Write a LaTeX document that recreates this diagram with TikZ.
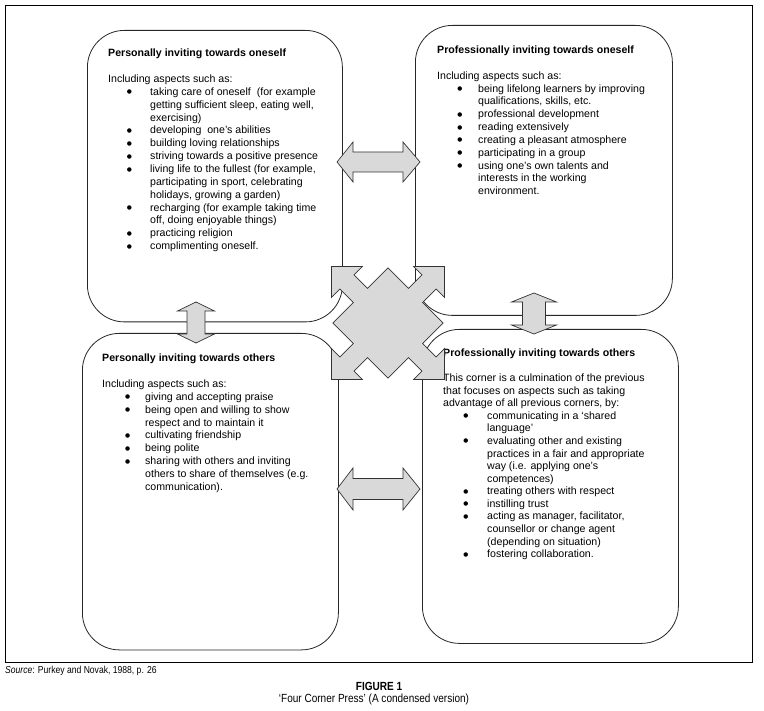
\documentclass[tikz,border=0pt]{standalone}
\usepackage{fontspec}
\setmainfont{Liberation Sans}
\newfontfamily\narrowfont[FakeStretch=0.85]{Liberation Sans}
\newfontfamily\dotfont{DejaVu Sans}
\definecolor{arrowgray}{RGB}{217,217,217}
\newlength\bulx
\newlength\itmx
\newcommand\bl{\hspace*{\dimexpr\bulx+0.2pt\relax}\makebox[\dimexpr\itmx-\bulx-0.2pt\relax][l]{\raisebox{1.5pt}{\dotfont\fontsize{5.8}{7}\selectfont ●}}}
\newcommand\ct{\hspace*{\itmx}}
\begin{document}
\begin{tikzpicture}[x=1pt,y=-1pt,
  cornerbox/.style={draw=black!85, line width=0.8pt, rounded corners=37pt, anchor=north west, inner sep=0pt, fill=white},
  boxtext/.style={anchor=north west, align=left, inner sep=0pt, font=\fontsize{10.6}{12.85}\selectfont},
  blockarrow/.style={draw=black!80, line width=0.7pt, fill=arrowgray, line join=miter},
  captext/.style={inner sep=0pt}]
\useasboundingbox (0,0) rectangle (764,711);
% outer frame
\node[draw=black, line width=0.9pt, anchor=north west, inner sep=0pt, minimum width=747pt, minimum height=657pt] (frame) at (5,5) {};
% the four corner boxes
\node[cornerbox, minimum width=255pt, minimum height=291.5pt] (tl) at (87,30) {};
\node[cornerbox, minimum width=257pt, minimum height=290pt] (tr) at (415,25) {};
\node[cornerbox, minimum width=256pt, minimum height=316.5pt] (bl) at (82,333) {};
\node[cornerbox, minimum width=256pt, minimum height=314pt] (br) at (422,329) {};
% texts
\setlength\bulx{18.4pt}\setlength\itmx{42pt}
\node[boxtext] (tltext) at (108,46.7) {\rule{0pt}{10pt}\textbf{Personally inviting towards oneself}\\[12.85pt]
Including aspects such as:\\
\bl taking care of oneself\ \ (for example\\
\ct getting sufficient sleep, eating well,\\
\ct exercising)\\
\bl developing\ \ one’s abilities\\
\bl building loving relationships\\
\bl striving towards a positive presence\\
\bl living life to the fullest (for example,\\
\ct participating in sport, celebrating\\
\ct holidays, growing a garden)\\
\bl recharging (for example taking time\\
\ct off, doing enjoyable things)\\
\bl practicing religion\\
\bl complimenting oneself.};
\setlength\bulx{20pt}\setlength\itmx{41pt}
\node[boxtext] (trtext) at (437,43.3) {\rule{0pt}{10pt}\textbf{Professionally inviting towards oneself}\\[12.85pt]
Including aspects such as:\\
\bl being lifelong learners by improving\\
\ct qualifications, skills, etc.\\
\bl professional development\\
\bl reading extensively\\
\bl creating a pleasant atmosphere\\
\bl participating in a group\\
\bl using one’s own talents and\\
\ct interests in the working\\
\ct environment.};
\setlength\bulx{22.8pt}\setlength\itmx{43pt}
\node[boxtext] (bltext) at (102,351.7) {\rule{0pt}{10pt}\textbf{Personally inviting towards others}\\[12.85pt]
Including aspects such as:\\
\bl giving and accepting praise\\
\bl being open and willing to show\\
\ct respect and to maintain it\\
\bl cultivating friendship\\
\bl being polite\\
\bl sharing with others and inviting\\
\ct others to share of themselves (e.g.\\
\ct communication).};
\setlength\bulx{20pt}\setlength\itmx{44pt}
\node[boxtext, font=\fontsize{10.6}{12.6}\selectfont] (brtext) at (443,346) {\rule{0pt}{10pt}\textbf{Professionally inviting towards others}\\[12.6pt]
This corner is a culmination of the previous\\
that focuses on aspects such as taking\\
advantage of all previous corners, by:\\
\bl communicating in a ‘shared\\
\ct language’\\
\bl evaluating other and existing\\
\ct practices in a fair and appropriate\\
\ct way (i.e. applying one’s\\
\ct competences)\\
\bl treating others with respect\\
\bl instilling trust\\
\bl acting as manager, facilitator,\\
\ct counsellor or change agent\\
\ct (depending on situation)\\
\bl fostering collaboration.};
% double block arrows between neighbouring boxes
\draw[blockarrow] (337,162) -- (353,142) -- (353,152) -- (403,152) -- (403,142) -- (420,162) -- (403,182) -- (403,172) -- (353,172) -- (353,182) -- cycle;
\draw[blockarrow] (337,489) -- (353,468) -- (353,478.5) -- (403,478.5) -- (403,468) -- (420,489) -- (403,510) -- (403,499.5) -- (353,499.5) -- (353,510) -- cycle;
\draw[blockarrow] (196,302) -- (214.5,311) -- (205,311) -- (205,334) -- (214.5,334) -- (196,343) -- (177.5,334) -- (187,334) -- (187,311) -- (177.5,311) -- cycle;
\draw[blockarrow] (534,293) -- (556.5,302) -- (545.5,302) -- (545.5,325) -- (556.5,325) -- (534,334) -- (511.5,325) -- (522.5,325) -- (522.5,302) -- (511.5,302) -- cycle;
% central four-way arrow
\coordinate (hub) at (388,323);
\begin{scope}[shift={(hub)}, rotate=45]
\draw[blockarrow] (39,-10) -- (58,-10) -- (58,-22) -- (80,0) -- (58,22) -- (58,10) -- (39,10) -- (39,39) -- (10,39) -- (10,58) -- (22,58) -- (0,80) -- (-22,58) -- (-10,58) -- (-10,39) -- (-39,39) -- (-39,10) -- (-58,10) -- (-58,22) -- (-80,0) -- (-58,-22) -- (-58,-10) -- (-39,-10) -- (-39,-39) -- (-10,-39) -- (-10,-58) -- (-22,-58) -- (0,-80) -- (22,-58) -- (10,-58) -- (10,-39) -- (39,-39) -- cycle;
\end{scope}
% caption
\node[captext, anchor=base west, font=\narrowfont\fontsize{10.1}{12}\selectfont] (src) at (5,673) {\textit{Source}: Purkey and Novak, 1988, p. 26};
\node[captext, anchor=base, font=\narrowfont\bfseries\fontsize{11.8}{12}\selectfont] (fig) at (379,690.5) {FIGURE 1};
\node[captext, anchor=base, font=\narrowfont\fontsize{11.8}{12}\selectfont] (cap) at (374,702.5) {‘Four Corner Press’ (A condensed version)};
\end{tikzpicture}
\end{document}
